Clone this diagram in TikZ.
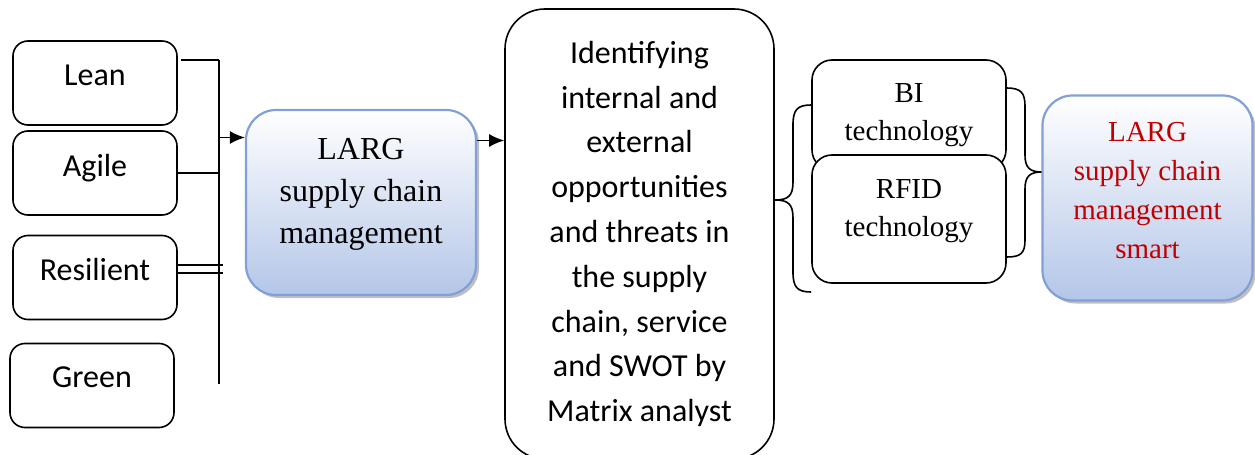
\documentclass[tikz,border=0pt]{standalone}
\usepackage{fontspec}
\setmainfont{Liberation Serif}
\newfontfamily\calibri{Carlito}
\usetikzlibrary{shadows,arrows.meta}
\definecolor{largline}{RGB}{128,160,214}
\definecolor{largfill}{RGB}{180,198,232}
\definecolor{largred}{RGB}{192,0,0}
\tikzset{
  lbox/.style={draw,line width=0.8pt,rounded corners=7.5pt,minimum width=82pt,minimum height=42pt,
    text depth=8pt,font=\calibri\fontsize{16}{22.4}\selectfont},
  larg/.style={draw=largline,line width=1.1pt,rounded corners=15pt,top color=white,bottom color=largfill,
    drop shadow={shadow xshift=1.5pt,shadow yshift=-1.5pt,fill=black!50,opacity=.5},
    align=center},
  techbox/.style={draw,fill=white,line width=0.8pt,rounded corners=10pt,minimum width=97pt,align=center,
    font=\fontsize{14.5}{19}\selectfont},
  bus/.style={line width=0.8pt},
  feed/.style={bus,-{Latex[length=7.5pt,width=6.5pt]}}
}
\begin{document}
\begin{tikzpicture}[x=0.5pt,y=-0.5pt]
\useasboundingbox (0,0) rectangle (1255,455);
% left column
\node[lbox] (lean) at (95,83) {Lean};
\node[lbox] (agile) at (95,173) {Agile};
\node[lbox] (resilient) at (95,277.5) {Resilient};
\node[lbox] (green) at (92,385.5) {Green};
% collecting line
\coordinate (bustop) at (219,60);
\coordinate (busbot) at (219,384);
\draw[bus] (bustop) -- (busbot);
\draw[bus] ([xshift=1.5pt]lean.east |- bustop) -- (bustop);
\draw[bus] (agile.east) -- (agile.east -| bustop);
\draw[bus] ([yshift=6.25pt]resilient.east) -- ++(22.5pt,0);
\draw[bus] ([yshift=2.25pt]resilient.east) -- ++(22.5pt,0);
% LARG supply chain management
\node[larg,minimum width=115pt,minimum height=92.5pt,text depth=12pt,
  font=\fontsize{16}{21}\selectfont] (larg) at (361,202.5)
  {LARG\\supply chain\\management};
\coordinate (in1) at ([yshift=32.5pt]larg.west);
\draw[feed] (in1 -| bustop) -- (in1);
% identification box
\node[draw,line width=0.8pt,rounded corners=20pt,minimum width=134.5pt,minimum height=225pt,align=center,
  font=\calibri\fontsize{16}{22.4}\selectfont] (ident) at (639.5,234)
  {Identifying\\internal and\\external\\opportunities\\and threats in\\the supply\\chain, service\\and SWOT by\\Matrix analyst};
\coordinate (out1) at ([yshift=31pt]larg.east);
\draw[feed] (out1) -- (out1 -| ident.west);
% technologies
\node[techbox,minimum height=55pt] (bi) at (909,115) {BI\\technology};
\node[techbox,minimum height=64pt,text depth=11pt] (rfid) at (909,219) {RFID\\technology};
% braces
\draw[bus] (bi.west |- 0,105) .. controls (797,105) and (793,110) .. (793,125) -- (793,182)
  .. controls (793,196) and (788,200) .. (775,200) .. controls (788,200) and (793,204) .. (793,218)
  -- (793,272) .. controls (793,287) and (797,292) .. (bi.west |- 0,292);
\draw[bus] (bi.east |- 0,88) .. controls (1021,88) and (1025,93) .. (1025,106) -- (1025,155)
  .. controls (1025,168) and (1030,172) .. (1042,172) .. controls (1030,172) and (1025,176) .. (1025,189)
  -- (1025,240) .. controls (1025,253) and (1021,257) .. (rfid.east |- 0,257);
% LARG supply chain management smart
\node[larg,minimum width=105pt,minimum height=102.5pt,text depth=8pt,text=largred,
  font=\fontsize{14.5}{19.5}\selectfont] (smart) at (1147.5,198)
  {LARG\\supply chain\\management\\smart};
\end{tikzpicture}
\end{document}
